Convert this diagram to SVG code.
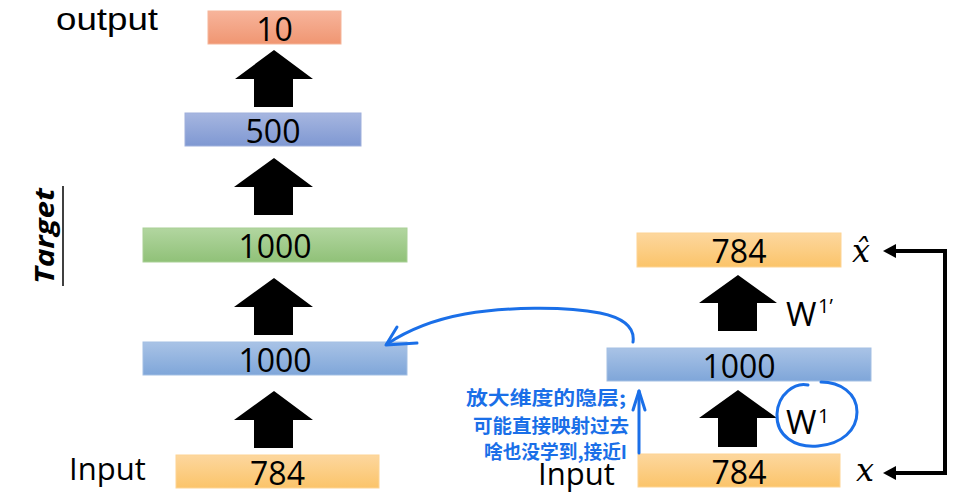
<svg xmlns="http://www.w3.org/2000/svg" width="960" height="497" viewBox="0 0 960 497">
<defs>
<linearGradient id="gSal" x1="0" y1="0" x2="0" y2="1"><stop offset="0" stop-color="#f7b49b"/><stop offset="1" stop-color="#f09672"/></linearGradient>
<linearGradient id="gOr" x1="0" y1="0" x2="0" y2="1"><stop offset="0" stop-color="#fdd79e"/><stop offset="1" stop-color="#fbc46a"/></linearGradient>
<linearGradient id="gPur" x1="0" y1="0" x2="0" y2="1"><stop offset="0" stop-color="#a6b6e0"/><stop offset="1" stop-color="#7f98d2"/></linearGradient>
<linearGradient id="gBl" x1="0" y1="0" x2="0" y2="1"><stop offset="0" stop-color="#a9c3e6"/><stop offset="1" stop-color="#7fa6d9"/></linearGradient>
<linearGradient id="gGr" x1="0" y1="0" x2="0" y2="1"><stop offset="0" stop-color="#b2d6a0"/><stop offset="1" stop-color="#90c178"/></linearGradient>
</defs>
<style>
.num{font-family:"Open Sans","Liberation Sans",sans-serif;font-size:32px;fill:#000;text-anchor:middle}
.lbl{font-family:"Open Sans","Liberation Sans",sans-serif;font-size:31px;fill:#000}
.lbl2{font-family:"Liberation Sans",sans-serif;font-size:32px;fill:#000}
.arr{fill:#000}
.hand{fill:none;stroke:#1a6fe8;stroke-width:3;stroke-linecap:round;stroke-linejoin:round}
.cn{font-family:"Noto Sans CJK SC",sans-serif;font-size:19px;font-weight:bold;fill:#1a6fe8}
.math{font-family:"DejaVu Serif","Liberation Serif",serif;font-style:italic;font-size:32px;fill:#000}
</style>
<rect width="960" height="497" fill="#fff"/>

<g id="n-output"><rect x="208" y="11" width="133" height="33" fill="url(#gSal)" stroke="#f5b59a" stroke-width="1"/><text class="num" x="274.5" y="41">10</text></g>
<g id="n-500"><rect x="185" y="113" width="176" height="33" fill="url(#gPur)" stroke="#9fb0dc" stroke-width="1"/><text class="num" x="273" y="143">500</text></g>
<g id="n-1000g"><rect x="143" y="228" width="264" height="34" fill="url(#gGr)" stroke="#a9d096" stroke-width="1"/><text class="num" x="275" y="258">1000</text></g>
<g id="n-1000b"><rect x="143" y="342" width="264" height="33" fill="url(#gBl)" stroke="#a3bfe3" stroke-width="1"/><text class="num" x="275" y="372">1000</text></g>
<g id="n-784l"><rect x="176" y="455" width="203" height="33" fill="url(#gOr)" stroke="#fdd494" stroke-width="1"/><text class="num" x="277.5" y="485">784</text></g>
<g id="n-784rt"><rect x="637" y="233" width="204" height="34" fill="url(#gOr)" stroke="#fdd494" stroke-width="1"/><text class="num" x="739" y="263">784</text></g>
<g id="n-1000r"><rect x="607" y="348" width="264" height="33" fill="url(#gBl)" stroke="#a3bfe3" stroke-width="1"/><text class="num" x="739" y="378">1000</text></g>
<g id="n-784rb"><rect x="638" y="454" width="202" height="33" fill="url(#gOr)" stroke="#fdd494" stroke-width="1"/><text class="num" x="739" y="484">784</text></g>

<g id="labels">
<text class="lbl2" x="56" y="30" textLength="102" lengthAdjust="spacingAndGlyphs">output</text>
<text class="lbl" x="69" y="480">Input</text>
<text class="lbl" x="538" y="485">Input</text>
<text class="lbl" x="786" y="326" style="font-size:33px">W</text>
<text class="lbl" x="818" y="313" style="font-size:20px">1’</text>
<text class="lbl" x="786" y="434" style="font-size:33px">W</text>
<text class="lbl" x="818" y="423" style="font-size:20px">1</text>
<text class="math" x="852" y="262">x̂</text>
<text class="math" x="856" y="481">x</text>
<g transform="translate(54,284) rotate(-90)"><text x="0" y="0" style="font-family:'Open Sans','Liberation Sans',sans-serif;font-weight:bold;font-style:italic;font-size:27px" textLength="96" lengthAdjust="spacingAndGlyphs">Target</text></g>
<line x1="63" y1="186" x2="63" y2="286" stroke="#000" stroke-width="1.5"/>
</g>

<g id="connectors">
<path class="arr" d="M274,50 L313,79 L293,79 L293,107 L254,107 L254,79 L235,79 Z"/>
<path class="arr" d="M274,158 L313,187 L293,187 L293,215 L254,215 L254,187 L234,187 Z"/>
<path class="arr" d="M274,278 L313,307 L293,307 L293,335 L254,335 L254,307 L234,307 Z"/>
<path class="arr" d="M274,391 L313,420 L293,420 L293,448 L254,448 L254,420 L234,420 Z"/>
<path class="arr" d="M738,275 L777,303 L757,303 L757,331 L718,331 L718,303 L699,303 Z"/>
<path class="arr" d="M738,390 L777,418 L757,418 L757,447 L718,447 L718,418 L699,418 Z"/>
<path d="M945,251 L945,473" stroke="#000" stroke-width="4" fill="none"/>
<path d="M947,251 L893,251" stroke="#000" stroke-width="4" fill="none"/>
<path d="M947,473 L893,473" stroke="#000" stroke-width="4" fill="none"/>
<path d="M883,251 L896,244 L896,258 Z" fill="#000"/>
<path d="M883,473 L896,466 L896,480 Z" fill="#000"/>
</g>

<g id="annotation">
<path class="hand" d="M633,342 C635,328 624,318 600,313 C565,306 505,307 465,314 C432,320 405,332 387,344"/>
<path class="hand" d="M397,327 L386,345 L417,343"/>
<path class="hand" d="M639,453 L639,391"/>
<path class="hand" d="M633,410 L639,391 L645,410"/>
<path class="hand" d="M808,385 C795,382 778,394 777,414 C776,436 795,448 818,446 C842,444 857,430 857,412 C857,393 840,382 821,382"/>
<text class="cn" x="466" y="405" textLength="160" lengthAdjust="spacingAndGlyphs">放大维度的隐层;</text>
<text class="cn" x="473" y="433" textLength="156" lengthAdjust="spacingAndGlyphs">可能直接映射过去</text>
<text class="cn" x="484" y="459" textLength="143" lengthAdjust="spacingAndGlyphs">啥也没学到,接近I</text>
</g>
</svg>
